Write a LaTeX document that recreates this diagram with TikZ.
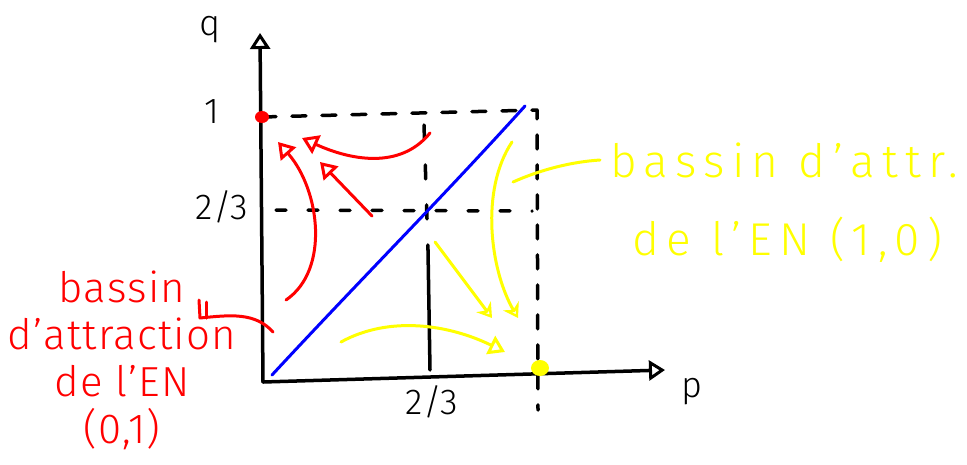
\documentclass[tikz,border=0pt]{standalone}
\usepackage{fontspec}
\setmainfont{Fira Sans Light}
\newfontfamily\widefont[LetterSpace=16]{Fira Sans Light}
\newfontfamily\redfont[LetterSpace=3]{Fira Sans Light}
\usetikzlibrary{arrows.meta}
\definecolor{yel}{RGB}{255,255,0}
\definecolor{rd}{RGB}{255,0,0}
\definecolor{bl}{RGB}{0,0,255}
\tikzset{
  pen/.style={line width=3.5pt, line cap=round, line join=round},
  dashpen/.style={pen, dash pattern=on 14pt off 16pt},
  opentip/.style={-{Triangle[open,length=16pt,width=20pt,line width=3pt]}},
  redtxt/.style={text=rd, font=\redfont\fontsize{42}{42}\selectfont, inner sep=0pt},
  yeltxt/.style={text=yel, font=\widefont\fontsize{46}{46}\selectfont, inner sep=0pt},
  lbl/.style={font=\fontsize{36}{36}\selectfont, inner sep=0pt},
}
\begin{document}
\begin{tikzpicture}[x=1pt,y=-1pt]
\useasboundingbox (0,0) rectangle (967,464);
% points
\coordinate (O) at (263,382);
\coordinate (Ytop) at (260,33);
\coordinate (Xend) at (665,370);
\coordinate (Q1) at (262,117);
\coordinate (TR) at (527,110);
\coordinate (Dtop) at (537,112);
\coordinate (Dbot) at (538,410);
\coordinate (Ltw) at (276,210);
\coordinate (Rtw) at (532,211);
\coordinate (Mtop) at (424,125);
\coordinate (Mmid) at (428,250);
\coordinate (Mbot) at (430,370);
% axes
\draw[pen, opentip] (O) -- (Ytop);
\draw[pen, opentip] (O) -- (Xend);
% dashed guides
\draw[dashpen] (Q1) -- (TR -| Dtop) -- (Dbot);
\draw[dashpen, dash pattern=on 10pt off 22pt] (Ltw) -- (Rtw);
\draw[dashpen, dash pattern=on 14pt off 26pt] (Mtop) -- (Mmid);
\draw[pen] (Mmid) -- (Mbot);
% blue diagonal
\coordinate (B0) at (272,375);
\coordinate (B1) at (525,106);
\draw[pen, bl, line width=3pt] (B0) .. controls (360,280) and (440,200) .. (B1);
% dots
\fill[rd] (Q1) ellipse (7pt and 6pt);
\fill[yel] (540,368) ellipse (9pt and 8pt);
% labels
\node[lbl] (q) at (210,30) {q};
\node[lbl] (p) at (692,392) {p};
\node[lbl] (one) at (212,112) {1};
\node[lbl] (ytw) at (222,207) {2/3};
\node[lbl] (xtw) at (432,402) {2/3};
% red arrows
\coordinate (r1a) at (430,133);
\coordinate (r1b) at (302,138);
\draw[pen, rd, line width=3pt, opentip] (r1a) .. controls (400,170) and (350,160) .. (r1b);
\coordinate (r2a) at (372,216);
\coordinate (r2b) at (320,162);
\draw[pen, rd, line width=3pt, opentip] (r2a) -- (r2b);
\coordinate (r3a) at (286,300);
\coordinate (r3b) at (278,142);
\draw[pen, rd, line width=3pt, opentip] (r3a) .. controls (330,270) and (320,190) .. (r3b);
% red label and leader
\node[redtxt, align=center] (rl) at (122,360) {bassin\\[5pt]d’attraction\\[5pt]de l’EN\\[5pt](0,1)};
\coordinate (rlA) at (273,332);
\coordinate (rlB) at (200,318);
\draw[pen, rd, line width=3pt] (rlA) .. controls (255,312) and (230,315) .. (rlB) -- (199,300);
\draw[pen, rd, line width=3pt] (206,318) -- (206,302);
% yellow arrows
\coordinate (y1a) at (435,242);
\coordinate (y1b) at (492,318);
\draw[pen, yel, line width=3pt, -{Stealth[length=14pt,width=18pt,open,line width=3pt]}] (y1a) -- (y1b);
\coordinate (y2a) at (512,142);
\coordinate (y2b) at (518,318);
\draw[pen, yel, line width=3pt, -{Stealth[length=14pt,width=18pt,open,line width=3pt]}] (y2a) .. controls (480,190) and (490,270) .. (y2b);
\coordinate (y3a) at (341,342);
\coordinate (y3b) at (505,352);
\draw[pen, yel, line width=3pt, opentip] (y3a) .. controls (390,315) and (450,325) .. (y3b);
% yellow label and leader
\node[yeltxt, anchor=west] (yl1) at (610,160) {bassin d’attr.};
\node[yeltxt, anchor=west] (yl2) at (632,240) {de l’EN (1,0)};
\coordinate (ylA) at (513,182);
\draw[pen, yel, line width=3pt] (ylA) .. controls (540,170) and (570,162) .. ([xshift=-10pt]yl1.west);
\end{tikzpicture}
\end{document}
